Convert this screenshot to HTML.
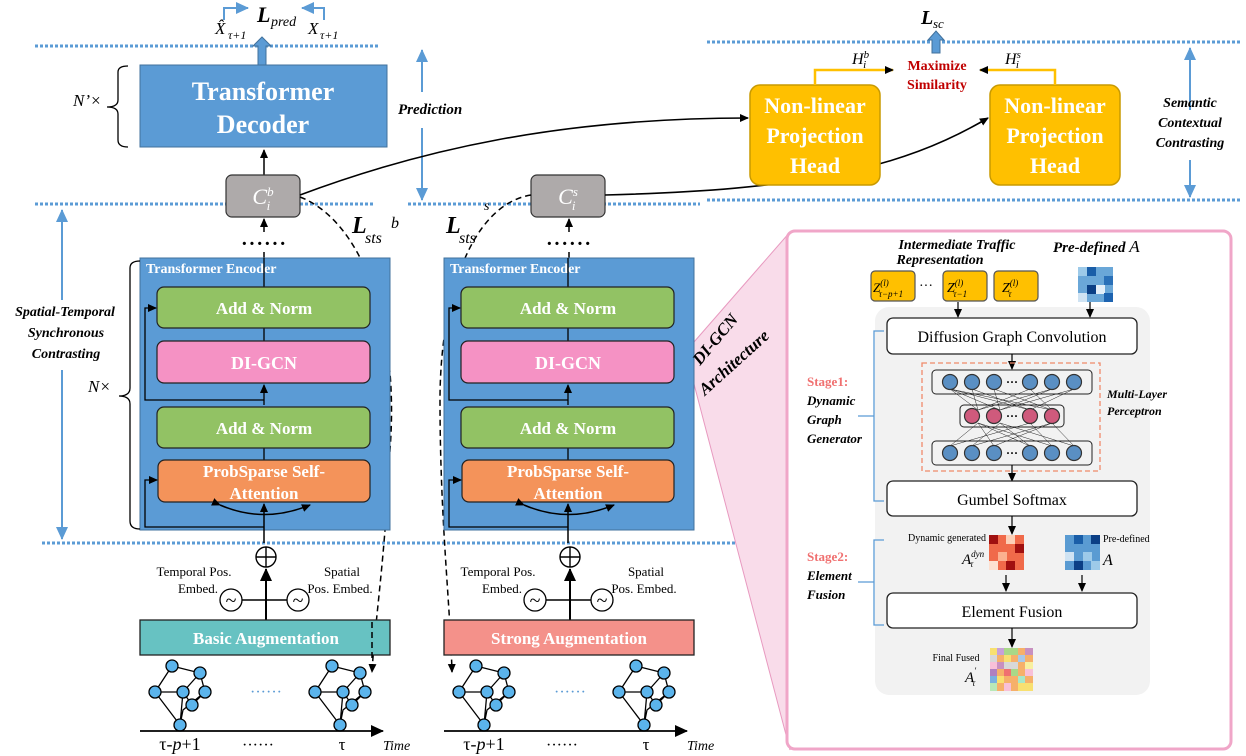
<!DOCTYPE html>
<html><head><meta charset="utf-8"><style>
body{margin:0;background:#fff}
svg{display:block}
text{font-family:"Liberation Serif",serif}
.w{fill:#fff;font-weight:bold;text-anchor:middle}
.bi{font-weight:bold;font-style:italic}
</style></head><body>
<svg width="1246" height="756" viewBox="0 0 1246 756" xmlns="http://www.w3.org/2000/svg">
<defs>
<marker id="a" markerUnits="userSpaceOnUse" markerWidth="10" markerHeight="10" refX="8" refY="5" orient="auto"><path d="M0,1 L9,5 L0,9z" fill="#000"/></marker>
<marker id="ab" markerUnits="userSpaceOnUse" markerWidth="14" markerHeight="14" refX="12" refY="7" orient="auto"><path d="M0,1 L13,7 L0,13z" fill="#5b9bd5"/></marker>
<marker id="ay" markerUnits="userSpaceOnUse" markerWidth="14" markerHeight="14" refX="12" refY="7" orient="auto"><path d="M0,1 L13,7 L0,13z" fill="#000"/></marker>
<g id="graph" stroke="#000" stroke-width="1.3" fill="#5bb4ec">
<path d="M172 666 L200 673 L205 692 L183 710 L180 725 L155 692 L172 666 M155 692 L183 692 L200 673 M183 692 L180 725 M183 692 L192 705 L205 692" fill="none"/>
<circle cx="172" cy="666" r="6"/><circle cx="200" cy="673" r="6"/><circle cx="155" cy="692" r="6"/><circle cx="183" cy="692" r="6"/><circle cx="205" cy="692" r="6"/><circle cx="192" cy="705" r="6"/><circle cx="180" cy="725" r="6"/>
</g>
</defs>

<g stroke="#5b9bd5" stroke-width="3" stroke-dasharray="3,2">
<line x1="35" y1="46" x2="378" y2="46"/>
<line x1="35" y1="204" x2="375" y2="204"/>
<line x1="408" y1="204" x2="700" y2="204"/>
<line x1="42" y1="543" x2="780" y2="543"/>
<line x1="707" y1="42" x2="1240" y2="42"/>
<line x1="707" y1="200" x2="1240" y2="200"/>
</g>

<polygon points="694,342 790,232 790,750 694,384" fill="#f9dcea" stroke="#e89ac0" stroke-width="1"/>

<text x="215" y="34" font-size="17" font-style="italic">X̂</text>
<text x="228" y="39" font-size="12" font-style="italic">τ+1</text>
<text x="308" y="34" font-size="17" font-style="italic">X</text>
<text x="320" y="39" font-size="12" font-style="italic">τ+1</text>
<text x="257" y="22" font-size="22" class="bi">L</text><text x="271" y="26" font-size="14" font-style="italic">pred</text>
<polyline points="224,20 224,8 248,8" fill="none" stroke="#5b9bd5" stroke-width="2" marker-end="url(#ab)"/>
<polyline points="324,20 324,8 302,8" fill="none" stroke="#5b9bd5" stroke-width="2" marker-end="url(#ab)"/>
<path d="M258 65 V46 H253 L262 37 L271 46 H266 V65z" fill="#5b9bd5" stroke="#41719c"/>

<rect x="140" y="65" width="247" height="82" fill="#5b9bd5" stroke="#41719c"/>
<text x="263" y="100" font-size="26" class="w">Transformer</text>
<text x="263" y="133" font-size="26" class="w">Decoder</text>
<path d="M128 66 Q118 66 118 72 V100 Q118 107 107 107 Q118 107 118 114 V140 Q118 147 128 147" fill="none" stroke="#000" stroke-width="1.3"/>
<text x="73" y="106" font-size="17" font-style="italic">N’×</text>
<line x1="422" y1="92" x2="422" y2="50" stroke="#5b9bd5" stroke-width="2" marker-end="url(#ab)"/>
<line x1="422" y1="128" x2="422" y2="200" stroke="#5b9bd5" stroke-width="2" marker-end="url(#ab)"/>
<text x="398" y="114" font-size="15" class="bi">Prediction</text>
<line x1="264" y1="175" x2="264" y2="150" stroke="#000" stroke-width="1.5" marker-end="url(#a)"/>

<rect x="226" y="175" width="74" height="42" rx="6" fill="#aeaaaa" stroke="#333" stroke-width="1.2"/>
<text x="263" y="204" font-size="22" font-style="italic" fill="#fff" text-anchor="middle">C<tspan font-size="13" dy="-8">b</tspan><tspan font-size="13" dx="-7" dy="14">i</tspan></text>
<rect x="531" y="175" width="74" height="42" rx="6" fill="#aeaaaa" stroke="#333" stroke-width="1.2"/>
<text x="568" y="204" font-size="22" font-style="italic" fill="#fff" text-anchor="middle">C<tspan font-size="13" dy="-8">s</tspan><tspan font-size="13" dx="-6" dy="14">i</tspan></text>
<line x1="264" y1="232" x2="264" y2="219" stroke="#000" stroke-width="1.5" marker-end="url(#a)"/>
<line x1="569" y1="232" x2="569" y2="219" stroke="#000" stroke-width="1.5" marker-end="url(#a)"/>
<text x="264" y="250" font-size="20" font-weight="bold" text-anchor="middle" letter-spacing="1">······</text>
<text x="569" y="250" font-size="20" font-weight="bold" text-anchor="middle" letter-spacing="1">······</text>
<line x1="264" y1="258" x2="264" y2="252" stroke="#000" stroke-width="1.5"/>
<line x1="569" y1="258" x2="569" y2="252" stroke="#000" stroke-width="1.5"/>

<path d="M300 195 C420 150 560 118 748 118" fill="none" stroke="#000" stroke-width="1.6" marker-end="url(#a)"/>
<path d="M605 195 C800 190 900 170 988 118" fill="none" stroke="#000" stroke-width="1.6" marker-end="url(#a)"/>
<path d="M300 197 C360 220 400 320 390 450 C385 560 375 620 372 672" fill="none" stroke="#000" stroke-width="1.5" stroke-dasharray="6,4" marker-end="url(#a)"/>
<path d="M531 195 C470 205 440 300 440 400 C440 520 450 600 452 672" fill="none" stroke="#000" stroke-width="1.5" stroke-dasharray="6,4" marker-end="url(#a)"/>
<text x="352" y="233" font-size="24" class="bi">L</text><text x="365" y="243" font-size="16" font-style="italic">sts</text><text x="391" y="228" font-size="16" font-style="italic">b</text>
<text x="446" y="233" font-size="24" class="bi">L</text><text x="459" y="243" font-size="16" font-style="italic">sts</text><text x="484" y="210" font-size="14" font-style="italic">s</text>

<g id="enc">
<rect x="140" y="258" width="250" height="272" fill="#5b9bd5" stroke="#41719c"/>
<text x="146" y="273" font-size="14" font-weight="bold" fill="#fff">Transformer Encoder</text>
<line x1="264" y1="258" x2="264" y2="287" stroke="#000" stroke-width="1.3"/>
<line x1="264" y1="328" x2="264" y2="341" stroke="#000" stroke-width="1.3"/>
<line x1="264" y1="405" x2="264" y2="385" stroke="#000" stroke-width="1.3" marker-end="url(#a)"/>
<line x1="264" y1="448" x2="264" y2="460" stroke="#000" stroke-width="1.3"/>
<line x1="264" y1="543" x2="264" y2="504" stroke="#000" stroke-width="1.5" marker-end="url(#a)"/>
<rect x="157" y="287" width="213" height="41" rx="7" fill="#92c264" stroke="#222" stroke-width="1.2"/>
<text x="264" y="314" font-size="17" class="w">Add &amp; Norm</text>
<rect x="157" y="341" width="213" height="42" rx="7" fill="#f592c4" stroke="#222" stroke-width="1.2"/>
<text x="264" y="369" font-size="18" class="w">DI-GCN</text>
<rect x="157" y="407" width="213" height="41" rx="7" fill="#92c264" stroke="#222" stroke-width="1.2"/>
<text x="264" y="434" font-size="17" class="w">Add &amp; Norm</text>
<rect x="158" y="460" width="212" height="42" rx="7" fill="#f4935a" stroke="#222" stroke-width="1.2"/>
<text x="264" y="477" font-size="17" class="w">ProbSparse Self-</text>
<text x="264" y="499" font-size="17" class="w">Attention</text>
<polyline points="264,527 145,527 145,480 157,480" fill="none" stroke="#000" stroke-width="1.3" marker-end="url(#a)"/>
<polyline points="264,400 145,400 145,308 156,308" fill="none" stroke="#000" stroke-width="1.3" marker-end="url(#a)"/>
<path d="M220 505 Q264 524 310 505" fill="none" stroke="#000" stroke-width="1.5" marker-start="url(#a)" marker-end="url(#a)"/>
<circle cx="266" cy="557" r="10" fill="#fff" stroke="#000" stroke-width="1.4"/>
<path d="M256 557 H276 M266 547 V567" stroke="#000" stroke-width="1.4"/>
<line x1="266" y1="620" x2="266" y2="569" stroke="#000" stroke-width="2" marker-end="url(#ay)"/>
<line x1="242" y1="600" x2="287" y2="600" stroke="#000" stroke-width="1.5"/>
<circle cx="231" cy="600" r="11" fill="#fff" stroke="#000" stroke-width="1.3"/><text x="231" y="607" font-size="20" text-anchor="middle">~</text>
<circle cx="298" cy="600" r="11" fill="#fff" stroke="#000" stroke-width="1.3"/><text x="298" y="607" font-size="20" text-anchor="middle">~</text>
<text x="194" y="576" font-size="13" text-anchor="middle">Temporal Pos.</text>
<text x="198" y="593" font-size="13" text-anchor="middle">Embed.</text>
<text x="342" y="576" font-size="13" text-anchor="middle">Spatial</text>
<text x="340" y="593" font-size="13" text-anchor="middle">Pos. Embed.</text>
<use href="#graph"/>
<use href="#graph" x="160"/>
<text x="266" y="697" font-size="16" fill="#5b9bd5" text-anchor="middle">······</text>
<line x1="140" y1="731" x2="383" y2="731" stroke="#000" stroke-width="1.8" marker-end="url(#ay)"/>
<text x="180" y="750" font-size="18" text-anchor="middle">τ-<tspan font-style="italic">p</tspan>+1</text>
<text x="258" y="750" font-size="16" text-anchor="middle">······</text>
<text x="342" y="750" font-size="17" text-anchor="middle">τ</text>
<text x="383" y="750" font-size="14" font-style="italic">Time</text>
</g>
<use href="#enc" x="304"/>
<rect x="140" y="620" width="250" height="35" fill="#67c2c2" stroke="#222" stroke-width="1.3"/>
<text x="266" y="644" font-size="17" class="w">Basic Augmentation</text>
<rect x="444" y="620" width="250" height="35" fill="#f4918a" stroke="#222" stroke-width="1.3"/>
<text x="569" y="644" font-size="17" class="w">Strong Augmentation</text>
<line x1="372" y1="622" x2="372" y2="660" stroke="#000" stroke-width="1.5" stroke-dasharray="6,4"/>

<line x1="62" y1="300" x2="62" y2="210" stroke="#5b9bd5" stroke-width="2" marker-end="url(#ab)"/>
<line x1="62" y1="370" x2="62" y2="539" stroke="#5b9bd5" stroke-width="2" marker-end="url(#ab)"/>
<text x="65" y="316" font-size="14" class="bi" text-anchor="middle">Spatial-Temporal</text>
<text x="66" y="337" font-size="14" class="bi" text-anchor="middle">Synchronous</text>
<text x="66" y="358" font-size="14" class="bi" text-anchor="middle">Contrasting</text>
<path d="M140 261 Q130 261 130 268 V388 Q130 396 119 396 Q130 396 130 404 V521 Q130 529 140 529" fill="none" stroke="#000" stroke-width="1.3"/>
<text x="88" y="392" font-size="17" font-style="italic">N×</text>

<rect x="750" y="85" width="130" height="100" rx="10" fill="#ffc000" stroke="#c99a00" stroke-width="1.5"/>
<text x="815" y="113" font-size="22" class="w">Non-linear</text>
<text x="815" y="143" font-size="22" class="w">Projection</text>
<text x="815" y="173" font-size="22" class="w">Head</text>
<rect x="990" y="85" width="130" height="100" rx="10" fill="#ffc000" stroke="#c99a00" stroke-width="1.5"/>
<text x="1055" y="113" font-size="22" class="w">Non-linear</text>
<text x="1055" y="143" font-size="22" class="w">Projection</text>
<text x="1055" y="173" font-size="22" class="w">Head</text>
<polyline points="815,85 815,70 893,70" fill="none" stroke="#ffc000" stroke-width="2.5" marker-end="url(#a)"/>
<polyline points="1055,85 1055,70 980,70" fill="none" stroke="#ffc000" stroke-width="2.5" marker-end="url(#a)"/>
<text x="852" y="64" font-size="16" font-style="italic">H<tspan font-size="11" dy="-6">b</tspan><tspan font-size="11" dx="-6" dy="10">i</tspan></text>
<text x="1005" y="64" font-size="16" font-style="italic">H<tspan font-size="11" dy="-6">s</tspan><tspan font-size="11" dx="-5" dy="10">i</tspan></text>
<text x="937" y="70" font-size="14" font-weight="bold" fill="#c00000" text-anchor="middle">Maximize</text>
<text x="937" y="89" font-size="14" font-weight="bold" fill="#c00000" text-anchor="middle">Similarity</text>
<path d="M932 53 V40 H928 L936 31 L944 40 H940 V53z" fill="#5b9bd5" stroke="#41719c"/>
<text x="921" y="24" font-size="20" class="bi">L</text><text x="933" y="28" font-size="13" font-style="italic">sc</text>
<line x1="1190" y1="110" x2="1190" y2="48" stroke="#5b9bd5" stroke-width="2" marker-end="url(#ab)"/>
<line x1="1190" y1="160" x2="1190" y2="197" stroke="#5b9bd5" stroke-width="2" marker-end="url(#ab)"/>
<text x="1190" y="107" font-size="14" class="bi" text-anchor="middle">Semantic</text>
<text x="1190" y="127" font-size="14" class="bi" text-anchor="middle">Contextual</text>
<text x="1190" y="147" font-size="14" class="bi" text-anchor="middle">Contrasting</text>

<rect x="787" y="231" width="444" height="518" rx="8" fill="#fff" stroke="#f0a6c8" stroke-width="3"/>
<text transform="translate(700,366) rotate(-50)" font-size="17" class="bi">DI-GCN</text>
<text transform="translate(705,396) rotate(-42)" font-size="17" class="bi">Architecture</text>
<rect x="875" y="307" width="275" height="388" rx="14" fill="#f2f2f2"/>
<text x="957" y="249" font-size="14" class="bi" text-anchor="middle">Intermediate Traffic</text>
<text x="940" y="264" font-size="14" class="bi" text-anchor="middle">Representation</text>
<text x="1053" y="252" font-size="15" class="bi">Pre-defined <tspan font-style="italic" font-weight="normal" font-size="17">A</tspan></text>
<g stroke="#555" stroke-width="1.2" fill="#ffc000">
<rect x="871" y="271" width="44" height="30" rx="4"/><rect x="943" y="271" width="44" height="30" rx="4"/><rect x="994" y="271" width="44" height="30" rx="4"/>
</g>
<text x="873" y="292" font-size="13" font-style="italic">Z<tspan font-size="9" dy="-6">(l)</tspan><tspan font-size="9" dx="-10" dy="11">τ−p+1</tspan></text>
<text x="919" y="290" font-size="14">···</text>
<text x="947" y="292" font-size="14" font-style="italic">Z<tspan font-size="9" dy="-6">(l)</tspan><tspan font-size="9" dx="-10" dy="11">τ−1</tspan></text>
<text x="1002" y="292" font-size="14" font-style="italic">Z<tspan font-size="9" dy="-6">(l)</tspan><tspan font-size="9" dx="-10" dy="11">τ</tspan></text>
<g>
<rect x="1078" y="267" width="35" height="35" fill="#6aa7d8"/>
<rect x="1078" y="267" width="9" height="9" fill="#9dcae9"/><rect x="1087" y="267" width="9" height="9" fill="#1a5ea8"/><rect x="1104" y="276" width="9" height="9" fill="#2a70b8"/>
<rect x="1087" y="285" width="9" height="9" fill="#0b3f85"/><rect x="1078" y="293" width="9" height="9" fill="#cfe3f3"/><rect x="1096" y="285" width="9" height="9" fill="#e4eff9"/><rect x="1104" y="293" width="9" height="9" fill="#1d63b0"/>
</g>
<line x1="1090" y1="302" x2="1090" y2="317" stroke="#000" stroke-width="1.2" marker-end="url(#a)"/>
<line x1="958" y1="302" x2="958" y2="317" stroke="#000" stroke-width="1.2" marker-end="url(#a)"/>
<rect x="887" y="318" width="250" height="36" rx="6" fill="#fff" stroke="#222" stroke-width="1.3"/>
<text x="1012" y="342" font-size="16" text-anchor="middle" font-family="Liberation Sans">Diffusion Graph Convolution</text>
<line x1="1012" y1="354" x2="1012" y2="369" stroke="#000" stroke-width="1.2" marker-end="url(#a)"/>
<rect x="922" y="363" width="178" height="108" fill="none" stroke="#f08a6a" stroke-width="1.3" stroke-dasharray="5,3"/>
<rect x="932" y="370" width="160" height="24" rx="4" fill="none" stroke="#222"/>
<rect x="960" y="405" width="104" height="22" rx="4" fill="none" stroke="#222"/>
<rect x="932" y="441" width="160" height="24" rx="4" fill="none" stroke="#222"/>
<g stroke="#222" stroke-width="0.5">
<path d="M950 389 L978 410 M950 389 L1000 410 M950 389 L1030 410 M950 389 L1052 410 M972 389 L1030 410 M972 389 L978 410 M994 389 L1052 410 M994 389 L1000 410 M1030 389 L978 410 M1030 389 L1052 410 M1052 389 L978 410 M1052 389 L1000 410 M1074 389 L1030 410 M1074 389 L1000 410"/>
<path d="M950 446 L978 423 M950 446 L1030 423 M972 446 L1000 423 M972 446 L1052 423 M994 446 L978 423 M994 446 L1052 423 M1030 446 L978 423 M1030 446 L1000 423 M1052 446 L1030 423 M1052 446 L978 423 M1074 446 L1000 423 M1074 446 L1052 423"/>
</g>
<g fill="#5a8fc3" stroke="#333" stroke-width="1.2">
<circle cx="950" cy="382" r="7.5"/><circle cx="972" cy="382" r="7.5"/><circle cx="994" cy="382" r="7.5"/><circle cx="1030" cy="382" r="7.5"/><circle cx="1052" cy="382" r="7.5"/><circle cx="1074" cy="382" r="7.5"/>
<circle cx="950" cy="453" r="7.5"/><circle cx="972" cy="453" r="7.5"/><circle cx="994" cy="453" r="7.5"/><circle cx="1030" cy="453" r="7.5"/><circle cx="1052" cy="453" r="7.5"/><circle cx="1074" cy="453" r="7.5"/>
</g>
<g fill="#cf5a7c" stroke="#333" stroke-width="1.2">
<circle cx="972" cy="416" r="7.5"/><circle cx="994" cy="416" r="7.5"/><circle cx="1030" cy="416" r="7.5"/><circle cx="1052" cy="416" r="7.5"/>
</g>
<text x="1012" y="386" font-size="12" text-anchor="middle" font-weight="bold">···</text>
<text x="1012" y="420" font-size="12" text-anchor="middle" font-weight="bold">···</text>
<text x="1012" y="457" font-size="12" text-anchor="middle" font-weight="bold">···</text>
<text x="1107" y="398" font-size="12" class="bi">Multi-Layer</text>
<text x="1107" y="415" font-size="12" class="bi">Perceptron</text>
<line x1="1012" y1="465" x2="1012" y2="481" stroke="#000" stroke-width="1.2" marker-end="url(#a)"/>
<rect x="887" y="481" width="250" height="35" rx="6" fill="#fff" stroke="#222" stroke-width="1.3"/>
<text x="1012" y="505" font-size="16" text-anchor="middle" font-family="Liberation Sans">Gumbel Softmax</text>
<line x1="1012" y1="516" x2="1012" y2="534" stroke="#000" stroke-width="1.2" marker-end="url(#a)"/>
<path d="M884 331 H874 V501 H884 M874 416 H858" fill="none" stroke="#5b9bd5" stroke-width="1.3"/>
<text x="807" y="386" font-size="13" font-weight="bold" fill="#f07070">Stage1:</text>
<text x="807" y="405" font-size="13" class="bi">Dynamic</text>
<text x="807" y="424" font-size="13" class="bi">Graph</text>
<text x="807" y="443" font-size="13" class="bi">Generator</text>
<text x="986" y="541" font-size="10" text-anchor="end">Dynamic generated</text>
<text x="962" y="564" font-size="15" font-style="italic">A<tspan font-size="9" dy="-7">dyn</tspan><tspan font-size="9" dx="-14" dy="10">τ</tspan></text>
<g>
<rect x="989" y="535" width="35" height="35" fill="#f06a4a"/>
<rect x="989" y="535" width="9" height="9" fill="#a01010"/><rect x="1006" y="535" width="9" height="9" fill="#fcd0b8"/><rect x="1015" y="544" width="9" height="9" fill="#a01010"/><rect x="998" y="552" width="9" height="9" fill="#fbb090"/><rect x="989" y="561" width="9" height="9" fill="#fde0d0"/><rect x="1006" y="561" width="9" height="9" fill="#a01010"/>
</g>
<g>
<rect x="1065" y="535" width="35" height="35" fill="#5a9bd2"/>
<rect x="1074" y="535" width="9" height="9" fill="#1a5ea8"/><rect x="1091" y="535" width="9" height="9" fill="#0b3f85"/><rect x="1065" y="552" width="9" height="9" fill="#cfe3f3"/><rect x="1083" y="552" width="9" height="9" fill="#9dcae9"/><rect x="1074" y="561" width="9" height="9" fill="#0b3f85"/><rect x="1091" y="561" width="9" height="9" fill="#9dcae9"/>
</g>
<text x="1103" y="542" font-size="10">Pre-defined</text>
<text x="1103" y="565" font-size="16" font-style="italic">A</text>
<line x1="1006" y1="575" x2="1006" y2="591" stroke="#000" stroke-width="1.2" marker-end="url(#a)"/>
<line x1="1082" y1="575" x2="1082" y2="591" stroke="#000" stroke-width="1.2" marker-end="url(#a)"/>
<rect x="887" y="593" width="250" height="35" rx="6" fill="#fff" stroke="#222" stroke-width="1.3"/>
<text x="1012" y="617" font-size="16" text-anchor="middle" font-family="Liberation Sans">Element Fusion</text>
<path d="M884 540 H874 V625 H884 M874 582 H858" fill="none" stroke="#5b9bd5" stroke-width="1.3"/>
<text x="807" y="561" font-size="13" font-weight="bold" fill="#f07070">Stage2:</text>
<text x="807" y="580" font-size="13" class="bi">Element</text>
<text x="807" y="599" font-size="13" class="bi">Fusion</text>
<line x1="1012" y1="628" x2="1012" y2="647" stroke="#000" stroke-width="1.2" marker-end="url(#a)"/>
<text x="956" y="661" font-size="10" text-anchor="middle">Final Fused</text>
<text x="965" y="682" font-size="15" font-style="italic">A<tspan font-size="9" dy="-8">′</tspan><tspan font-size="9" dx="-4" dy="12">τ</tspan></text>
<g>
<rect x="990" y="648" width="43" height="43" fill="#f6b06a"/>
<rect x="990" y="648" width="7" height="7" fill="#f8e070"/><rect x="997" y="648" width="7" height="7" fill="#c8a0d8"/><rect x="1004" y="648" width="14" height="7" fill="#a8d888"/><rect x="1025" y="648" width="8" height="7" fill="#c890c0"/>
<rect x="990" y="655" width="7" height="7" fill="#d8d8d8"/><rect x="1004" y="655" width="7" height="7" fill="#f8e070"/><rect x="1018" y="655" width="7" height="7" fill="#a8c8e8"/>
<rect x="990" y="662" width="7" height="7" fill="#f8c0d8"/><rect x="997" y="662" width="7" height="7" fill="#c890c0"/><rect x="1004" y="662" width="14" height="7" fill="#d8d8d8"/><rect x="1025" y="662" width="8" height="7" fill="#f8f0a0"/>
<rect x="990" y="669" width="7" height="7" fill="#b080c0"/><rect x="1004" y="669" width="7" height="7" fill="#f07070"/><rect x="1011" y="669" width="7" height="7" fill="#a8d888"/><rect x="1025" y="669" width="8" height="7" fill="#f8c0d8"/>
<rect x="990" y="676" width="7" height="7" fill="#7ab0e0"/><rect x="997" y="676" width="7" height="7" fill="#f8e070"/><rect x="1018" y="676" width="7" height="7" fill="#a8e8c8"/>
<rect x="990" y="683" width="7" height="8" fill="#b8e8b8"/><rect x="1004" y="683" width="7" height="8" fill="#f8c0d8"/><rect x="1018" y="683" width="15" height="8" fill="#f8e070"/>
</g>
</svg>
</body></html>
